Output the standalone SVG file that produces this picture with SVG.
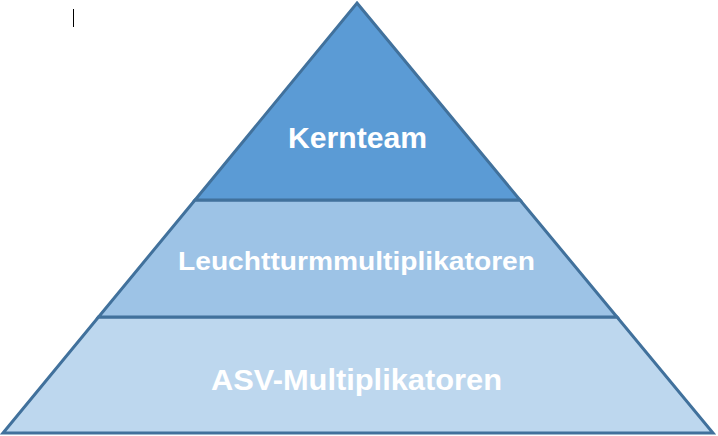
<svg xmlns="http://www.w3.org/2000/svg" width="718" height="436" viewBox="0 0 718 436">
<style>
.layer{stroke:#41719C;stroke-width:3;stroke-linejoin:miter}
.lbl{font-family:"Liberation Sans",Arial,sans-serif;font-weight:bold;fill:#FFFFFF;text-anchor:start}
</style>
<rect width="718" height="436" fill="#FFFFFF"/>
<line x1="73.5" y1="9" x2="73.5" y2="27" stroke="#000000" stroke-width="1"/>
<g id="layer-bottom">
<polygon class="layer" fill="#BDD7EE" points="98.5,317 617,317 713,433 3,433"/>
<text class="lbl" x="211" y="390" font-size="29" textLength="291" lengthAdjust="spacingAndGlyphs">ASV-Multiplikatoren</text>
</g>
<g id="layer-middle">
<polygon class="layer" fill="#9DC3E6" points="195,200 520,200 617,317 98.5,317"/>
<text class="lbl" x="178" y="270" font-size="25" textLength="357" lengthAdjust="spacingAndGlyphs">Leuchtturmmultiplikatoren</text>
</g>
<g id="layer-top">
<polygon class="layer" fill="#5B9BD5" points="357,3 520,200 195,200"/>
<text class="lbl" x="288" y="148" font-size="30" textLength="139" lengthAdjust="spacingAndGlyphs">Kernteam</text>
</g>
<g id="connectors"/>
</svg>
